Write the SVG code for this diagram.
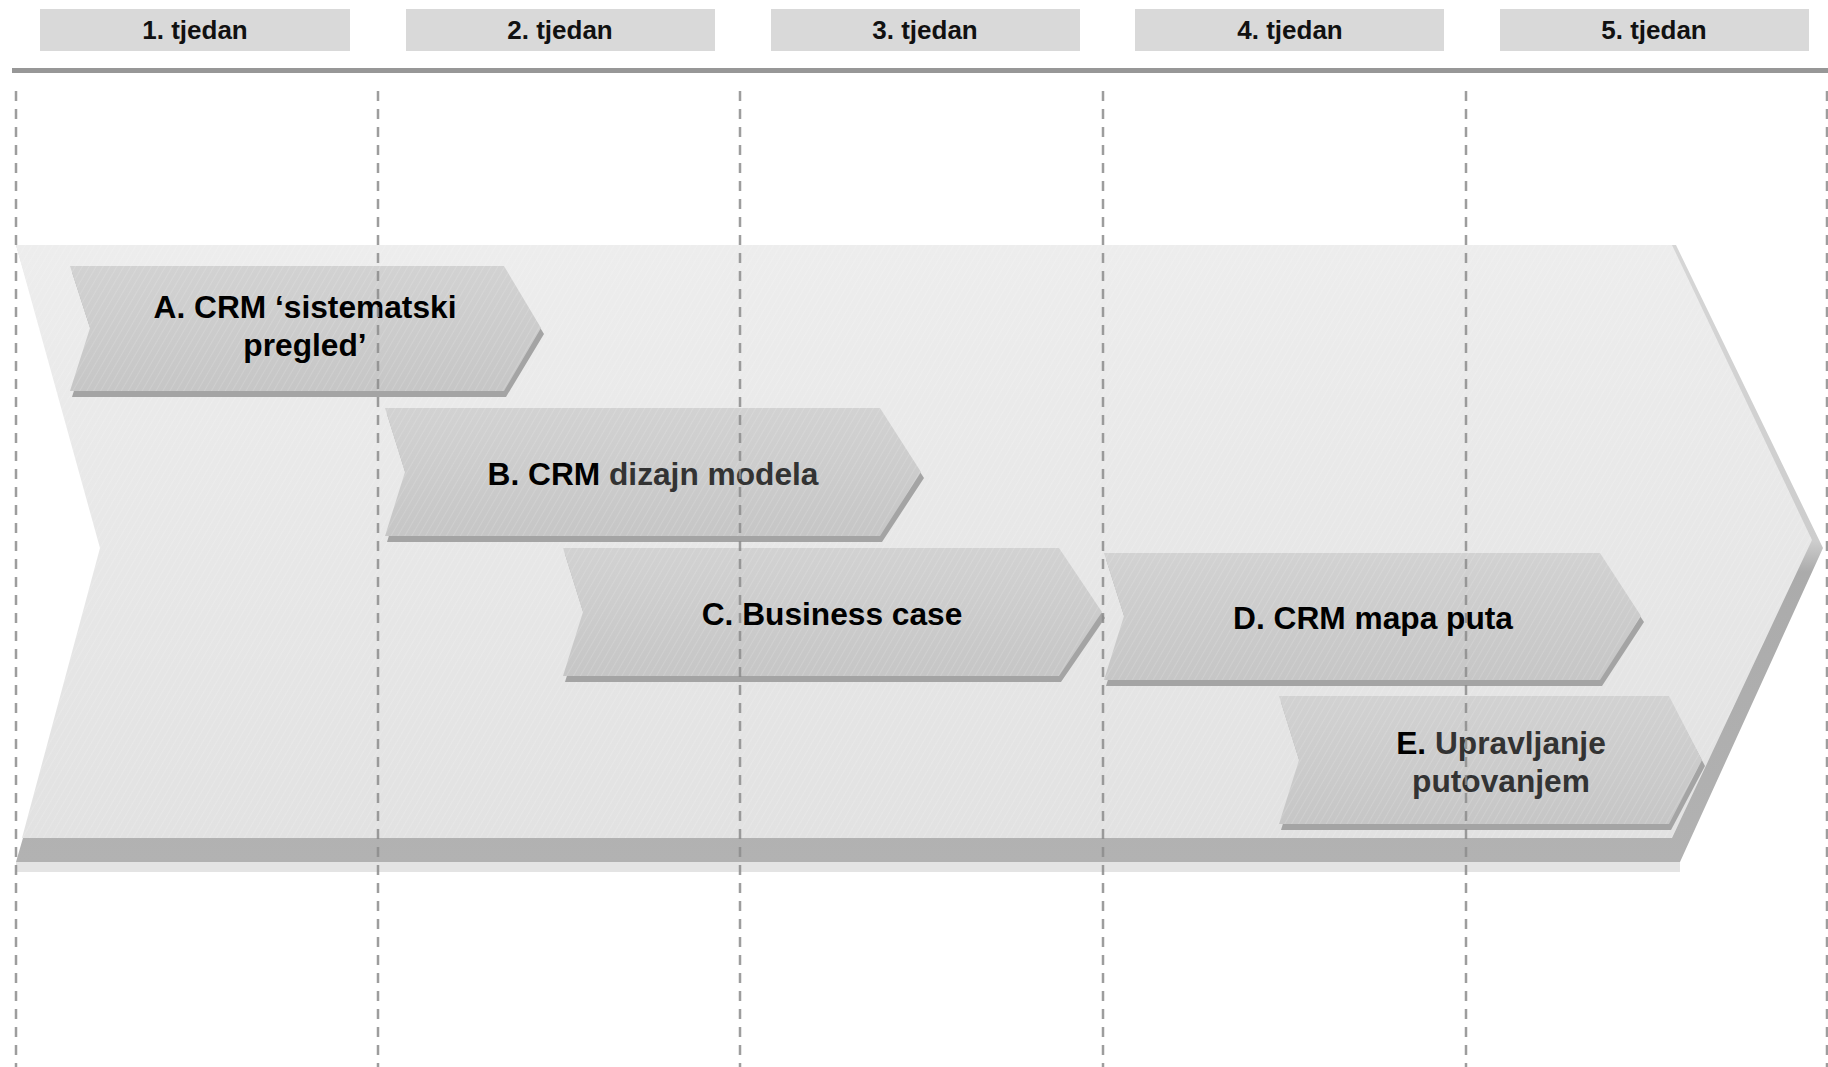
<svg xmlns="http://www.w3.org/2000/svg" width="1828" height="1067" viewBox="0 0 1828 1067">
<style>
.hdr{fill:#d9d9d9}
.htxt{font-family:"Liberation Sans",Arial,sans-serif;font-weight:bold;font-size:26px;fill:#111;text-anchor:middle}
.ctxt{font-family:"Liberation Sans",Arial,sans-serif;font-weight:bold;font-size:31.7px;fill:#000;text-anchor:middle}
.dim{fill:#333}
.grid{stroke:#8c8c8c;stroke-width:2.5;stroke-dasharray:10 8;fill:none}
.face{fill:url(#faceGrad)}
.hatch{fill:url(#hatch)}
.shadow{fill:#a4a4a4}
</style>
<defs>
<linearGradient id="bigGrad" x1="0" y1="0" x2="0" y2="1">
<stop offset="0" stop-color="#ededed"/>
<stop offset="1" stop-color="#e2e2e2"/>
</linearGradient>
<linearGradient id="edgeGrad" gradientUnits="userSpaceOnUse" x1="0" y1="245" x2="0" y2="862">
<stop offset="0" stop-color="#d6d6d6"/>
<stop offset="0.48" stop-color="#cdcdcd"/>
<stop offset="0.53" stop-color="#ababab"/>
<stop offset="1" stop-color="#b2b2b2"/>
</linearGradient>
<linearGradient id="faceGrad" x1="0" y1="0" x2="0" y2="1">
<stop offset="0" stop-color="#d2d2d2"/>
<stop offset="1" stop-color="#c6c6c6"/>
</linearGradient>
<pattern id="hatch" width="6" height="6" patternUnits="userSpaceOnUse" patternTransform="rotate(30)">
<line x1="0" y1="0" x2="0" y2="6" stroke="#ffffff" stroke-opacity="0.18" stroke-width="1.5"/>
</pattern>
</defs>

<g id="header">
<g id="week1"><rect class="hdr" x="40" y="9" width="310" height="42"/><text class="htxt" x="195" y="39">1. tjedan</text></g>
<g id="week2"><rect class="hdr" x="406" y="9" width="309" height="42"/><text class="htxt" x="560" y="39">2. tjedan</text></g>
<g id="week3"><rect class="hdr" x="771" y="9" width="309" height="42"/><text class="htxt" x="925" y="39">3. tjedan</text></g>
<g id="week4"><rect class="hdr" x="1135" y="9" width="309" height="42"/><text class="htxt" x="1290" y="39">4. tjedan</text></g>
<g id="week5"><rect class="hdr" x="1500" y="9" width="309" height="42"/><text class="htxt" x="1654" y="39">5. tjedan</text></g>
<rect x="12" y="68" width="1816" height="5" fill="#979797"/>
</g>

<g id="backbone">
<polygon points="16,872 1680,872 1680,862 16,862" fill="#e4e4e4"/>
<polygon points="16,245 1676,245 1823,548 1680,862 16,862 106,552" fill="url(#edgeGrad)"/>
<polygon points="16,245 1672,245 1812,540 1672,838 22,838 100,548" fill="url(#bigGrad)"/>
<polygon points="16,245 1672,245 1812,540 1672,838 22,838 100,548" class="hatch"/>
</g>

<g id="nodeA">
<polygon class="shadow" points="72,272 506,272 544,334 506,397 72,397 92,334"/>
<polygon class="face" points="70,266 504,266 541,328 504,391 70,391 90,328"/>
<polygon class="hatch" points="70,266 504,266 541,328 504,391 70,391 90,328"/>
<text class="ctxt" x="305" y="318">A. CRM ‘sistematski</text>
<text class="ctxt" x="305" y="356">pregled’</text>
</g>

<g id="nodeB">
<polygon class="shadow" points="387,414 882,414 924,478 882,542 387,542 407,478"/>
<polygon class="face" points="385,408 880,408 921,472 880,536 385,536 405,472"/>
<polygon class="hatch" points="385,408 880,408 921,472 880,536 385,536 405,472"/>
<text class="ctxt" x="653" y="485">B. CRM <tspan class="dim">dizajn modela</tspan></text>
</g>

<g id="nodeC">
<polygon class="shadow" points="565,554 1061,554 1105,618 1061,682 565,682 585,618"/>
<polygon class="face" points="563,548 1059,548 1102,612 1059,676 563,676 583,612"/>
<polygon class="hatch" points="563,548 1059,548 1102,612 1059,676 563,676 583,612"/>
<text class="ctxt" x="832" y="625">C. Business case</text>
</g>

<g id="nodeD">
<polygon class="shadow" points="1106,559 1602,559 1644,622 1602,686 1106,686 1126,622"/>
<polygon class="face" points="1104,553 1600,553 1641,616 1600,680 1104,680 1124,616"/>
<polygon class="hatch" points="1104,553 1600,553 1641,616 1600,680 1104,680 1124,616"/>
<text class="ctxt" x="1373" y="629">D. CRM mapa puta</text>
</g>

<g id="nodeE">
<polygon class="shadow" points="1281,702 1671,702 1705,766 1671,830 1281,830 1301,766"/>
<polygon class="face" points="1279,696 1669,696 1702,760 1669,824 1279,824 1299,760"/>
<polygon class="hatch" points="1279,696 1669,696 1702,760 1669,824 1279,824 1299,760"/>
<text class="ctxt" x="1501" y="754"><tspan fill="#000">E.</tspan><tspan class="dim"> Upravljanje</tspan></text>
<text class="ctxt dim" x="1501" y="792">putovanjem</text>
</g>

<g id="gridlines" opacity="0.85">
<line class="grid" x1="16" y1="91" x2="16" y2="1067"/>
<line class="grid" x1="378" y1="91" x2="378" y2="1067"/>
<line class="grid" x1="740" y1="91" x2="740" y2="1067"/>
<line class="grid" x1="1103" y1="91" x2="1103" y2="1067"/>
<line class="grid" x1="1466" y1="91" x2="1466" y2="1067"/>
<line class="grid" x1="1827" y1="91" x2="1827" y2="1067"/>
</g>

<g id="connectors"/>
</svg>
